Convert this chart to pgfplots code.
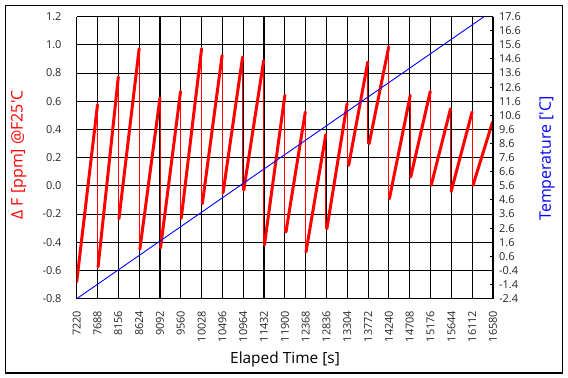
\documentclass[border=0pt]{standalone}
\usepackage{pgfplots}
\usepackage{pgfplotstable}
\pgfplotsset{compat=1.18}
\usepackage{fontspec}
\setmainfont{Open Sans}

\pgfplotstableread{
t0 y0 t1 y1 yn
7220 -0.68 7688 0.576 -0.575
7700 -0.575 8156 0.772 -0.233
8170 -0.233 8624 0.973 -0.450
8640 -0.450 9092 0.623 -0.445
9105 -0.440 9555 0.670 -0.233
9570 -0.230 10028 0.973 -0.126
10045 -0.126 10490 0.926 -0.067
10510 -0.050 10950 0.914 -0.032
10975 -0.032 11425 0.890 -0.420
11440 -0.420 11900 0.642 -0.327
11925 -0.327 12360 0.524 -0.469
12375 -0.469 12820 0.363 -0.304
12845 -0.304 13300 0.583 0.146
13335 0.146 13765 0.878 0.299
13795 0.299 14235 0.985 -0.091
14250 -0.091 14720 0.642 0.063
14730 0.063 15170 0.670 0.004
15190 0.004 15625 0.547 -0.039
15640 -0.039 16110 0.524 0.004
16130 0.004 16570 0.453 0.100
}\segs

\pgfplotstableread{
t T
7220 -2.4
16378 17.6
}\temp

\begin{document}
\begin{tikzpicture}
\path[use as bounding box] (0,0) rectangle (568bp,378bp);
\draw[line width=1.3bp] (5.7bp,5bp) rectangle (562.3bp,372.7bp);
\begin{axis}[
  at={(76.7bp,79.3bp)}, anchor=south west,
  scale only axis, width=416.3bp, height=282bp,
  xmin=7220, xmax=16580, ymin=-0.8, ymax=1.2,
  xtick={7220,7688,8156,8624,9092,9560,10028,10496,10964,11432,11900,12368,12836,13304,13772,14240,14708,15176,15644,16112,16580},
  ytick={-0.8,-0.6,-0.4,-0.2,0,0.2,0.4,0.6,0.8,1.0,1.2},
  scaled x ticks=false,
  grid=major,
  major grid style={black, line width=1.1bp},
  axis line style={black, line width=1.1bp},
  major tick length=0pt,
  tick style={draw=none},
  axis y line*=left,
  axis x line*=bottom,
  /pgf/number format/assume math mode=true,
  ticklabel style={font=\fontsize{11}{13}\selectfont, text=black!85},
  xticklabel style={yshift=-12bp, rotate=90, anchor=east, inner sep=0pt, /pgf/number format/1000 sep={}},
  yticklabel style={anchor=east, inner sep=0pt, xshift=-15bp, /pgf/number format/.cd, fixed, fixed zerofill, precision=1},
  xlabel={Elaped Time [s]},
  xlabel style={at={(axis description cs:0.5004,-0.214)}, anchor=center, font=\fontsize{15.5}{17}\selectfont},
  ylabel={Δ F [ppm] @F25\textquotesingle C},
  ylabel style={at={(axis description cs:-0.139,0.51)}, anchor=center, text=red, font=\fontsize{16}{18}\selectfont},
  clip=true,
]
\addplot[red, line width=0.8bp, quiver={u=0, v=\thisrow{yn}-\thisrow{y1}}, -] table[x=t1, y=y1] {\segs};
\addplot[red, line width=3bp, line cap=round, quiver={u=\thisrow{t1}-\thisrow{t0}, v=\thisrow{y1}-\thisrow{y0}}, -] table[x=t0, y=y0] {\segs};
\end{axis}
\begin{axis}[
  at={(76.7bp,79.3bp)}, anchor=south west,
  scale only axis, width=416.3bp, height=282bp,
  xmin=7220, xmax=16580, ymin=-2.4, ymax=17.6,
  axis x line=none,
  axis y line*=right,
  axis line style={black, line width=1.1bp},
  ytick={-2.4,-1.4,-0.4,0.6,1.6,2.6,3.6,4.6,5.6,6.6,7.6,8.6,9.6,10.6,11.6,12.6,13.6,14.6,15.6,16.6,17.6},
  major tick length=3bp,
  tick align=inside,
  tick style={black, line width=1bp},
  /pgf/number format/assume math mode=true,
  yticklabel style={font=\fontsize{11}{13}\selectfont, text=black!85, anchor=west, inner sep=0pt, xshift=6bp, /pgf/number format/.cd, fixed, fixed zerofill, precision=1},
  ylabel={Temperature [\textquotesingle C]},
  ylabel style={at={(axis description cs:1.1297,0.497)}, anchor=center, text=blue, font=\fontsize{16}{18}\selectfont},
]
\addplot[blue, line width=0.9bp] table[x=t, y=T] {\temp};
\end{axis}
\end{tikzpicture}
\end{document}
